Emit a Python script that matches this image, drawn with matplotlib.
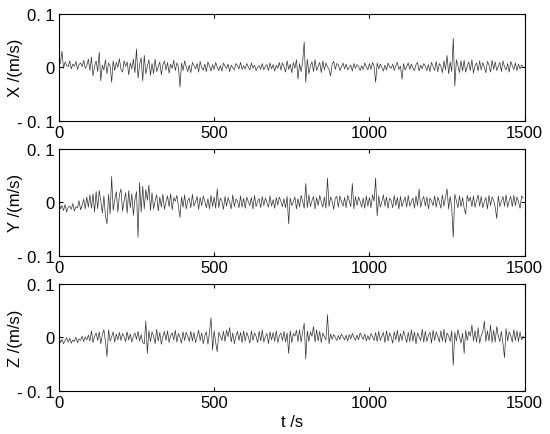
import numpy as np
import matplotlib
matplotlib.use('Agg')
import matplotlib.pyplot as plt

plt.rcParams['font.family'] = ['Liberation Sans', 'DejaVu Sans']

# Velocity signals, mm/s, one value every 5 s
t = np.arange(0, 1500, 5)

vx = [3, 8, 30, -2, 10, 4, 1, 12, -3, 6, 2, 11, -4, 5, 8, 1, 13, -2, 3, 15,
      -6, 19, -16, 2, 12, -8, 28, -25, 4, -5, 14, -12, 8, 3, -28, 12, -6, 9, 0, 16,
      -4, -9, 12, 2, 10, -14, 8, -3, 15, -10, 34, -20, 5, 18, -25, 22, -12, 2, 14, -15,
      7, -12, 15, -8, 1, 10, -14, 4, 12, -5, 9, -11, 6, -2, 13, -6, 8, 2, -37, 8,
      -6, 12, 1, -8, 4, -10, 9, 3, -3, 7, -9, 11, -1, -5, 6, -8, 10, 2, -7, 5,
      -4, 9, 0, -6, 3, -7, 8, 2, -2, 6, -8, 4, -1, -5, 7, 3, -3, 9, -4, 3,
      -3, 7, 1, -5, 8, -2, 4, -6, 0, 3, -4, 7, -5, 2, 5, -6, 8, -3, 5, -7,
      4, -2, 9, -5, 8, 1, -9, 12, -4, 6, -10, 9, -2, 14, -22, 7, -8, 10, 47, -28,
      15, -12, 3, 10, -8, 14, -6, 2, 9, -10, 12, -5, 8, 1, -4, -16, 6, 11, -4, 7,
      5, -6, 1, 8, -3, 6, -5, 0, 4, -7, 7, -2, 5, 2, -6, 3, -4, 8, 1, -5,
      7, -4, 9, 2, -28, 8, -3, 6, 0, -7, 4, -5, 8, 1, -2, 6, -6, 3, 9, -4,
      2, -22, 7, -5, 1, 8, -4, 6, -1, -6, 5, 9, -7, 4, -3, 7, 2, -6, 5, -8,
      9, 1, -6, 11, -8, 7, 2, -10, 12, -5, 22, -12, 10, -8, 54, -35, 14, 3, -10, 12,
      -7, 13, -9, 2, 10, -6, 14, -11, 3, 8, -7, 12, -5, 9, 0, -10, 11, 4, -9, 13,
      -4, 10, -6, 2, 9, -8, 12, 1, -5, 7, -9, 11, 3, -4, 8, -6, 6, -3, 4, 2]

vy = [5, -12, -6, -15, -4, -18, -9, -7, -13, -2, -16, -8, -10, 3, -14, -5, 6, -12, 10, -9,
      14, -11, 16, -18, 20, -12, 22, 3, -20, 12, -25, -40, 15, -22, 48, -15, 5, 20, -18, 14,
      25, -16, 2, 18, -20, 22, -10, 16, -24, 5, 20, -65, 37, -18, 30, -12, 24, 4, 32, -15,
      18, -12, 3, 14, -16, 10, -9, 15, -13, 1, 12, -8, 16, -14, 9, 2, 13, -7, -28, 10,
      -9, 14, -12, 3, 8, -10, 15, -7, 1, 11, -13, 9, -6, 12, 2, -10, 7, -12, 13, -8,
      10, -11, 25, -10, 8, 2, -13, 11, -7, 9, 0, -12, 14, -8, 6, 3, -10, 12, -9, 8,
      -11, 10, 1, -6, 9, -12, 13, -8, 2, 7, -10, 11, -6, 8, 0, -9, 12, -7, 5, -11,
      9, -5, 10, 2, -8, 7, -10, 11, -40, 8, -6, 1, 10, -12, 7, -9, 13, 2, -11, 35,
      -10, 14, -8, 3, 11, -12, 9, -6, 13, 1, -9, 10, -11, 45, -8, 10, 2, -13, 8, 11,
      -9, 12, 1, -7, 9, -10, 13, 3, -8, 35, -12, 11, -6, 10, 2, -9, 8, -11, 12, -7,
      9, -10, 14, 2, 45, -25, 12, -9, 1, 14, -7, 10, -11, 8, 3, -10, 13, -6, 9, -12,
      11, -8, 2, 10, -9, 13, -7, 1, 8, -11, 12, -6, 25, -9, 4, 11, -7, 10, -12, 8,
      2, -6, 12, -9, 10, 1, -11, 14, -7, 9, 25, -12, 11, -9, -65, 15, 3, -10, 12, -8,
      9, -11, -22, 13, 2, 10, -8, 12, -9, 3, 14, -7, 11, -10, 1, 9, -12, 13, -6, 10,
      4, -9, -30, 12, -8, 2, 11, -7, 14, -9, 3, 11, -8, 13, -6, 10, 1, -11, 12, 8]

vz = [2, -10, -4, -12, -6, -1, -9, -2, -11, -5, -8, 0, -10, -3, -6, 2, -8, 1, -5, 4,
      -7, 12, -10, 2, 8, -6, 10, -12, 5, 14, -8, -36, 14, -7, 1, 10, -9, 6, -5, 9,
      -6, 7, 1, -8, 10, -5, 6, -9, 2, 8, -4, 11, -7, 5, -10, -12, 30, -30, 12, -8,
      10, 2, -12, 15, -7, 9, -13, 1, 11, -6, 12, -10, 3, 8, -5, 13, -9, 7, 0, -11,
      10, -6, 9, 2, -8, 11, -7, 9, -10, 1, 13, -6, 8, -12, 3, 10, -13, 9, 36, -24,
      12, -10, -27, 9, 2, -6, 11, -8, 13, 1, 18, -9, 8, -12, 2, 11, -6, 9, -10, 12,
      -7, 9, 1, -11, 12, -6, 8, 2, -10, 11, -7, 13, -9, 1, 7, -12, 10, -5, 9, -8,
      12, -10, 3, 8, -6, 11, -9, 8, -30, 12, -10, 7, 2, 13, -8, 14, -9, 10, 26, -40,
      12, -8, 10, 2, 20, -9, 14, -7, 11, -10, 8, 1, -5, 42, -12, 6, -4, 5, 0, -6,
      3, -4, 6, 1, -5, 4, -7, 5, -3, 7, 0, -6, 4, -5, 8, 2, -4, 6, -7, 3,
      -5, 7, 1, -6, 9, -8, 11, -6, 2, 9, -10, 12, -7, 8, 1, -11, 10, -5, 13, -9,
      7, -6, 12, 2, -10, 9, -8, 14, -7, 10, -12, 8, 1, -6, 15, -9, 11, -8, 3, 9,
      -11, 13, -6, 10, 1, -9, 12, -7, 15, -10, 8, 2, -8, 12, -52, 9, -7, 14, 1, -11,
      8, -30, 13, -6, 11, 2, 23, -7, 12, -9, 18, -11, 3, 10, 30, -8, 12, -7, 23, -10,
      13, -9, 20, 2, -8, 11, -12, -38, 16, -7, 10, 3, -9, 14, -6, 12, -8, 10, -5, 2]

series = [vx, vy, vz]
ylabels = ['X /(m/s)', 'Y /(m/s)', 'Z /(m/s)']
xticks = [0, 500, 1000, 1500]
yticks = [-0.1, 0, 0.1]
ytick_labels = ['- 0. 1', '0', '0. 1']

fig = plt.figure(figsize=(5.5, 4.35), dpi=100)
bottoms = [0.7195, 0.409, 0.0989]

for i in range(3):
    ax = fig.add_axes([0.107, bottoms[i], 0.847, 0.247])
    ax.plot(t, np.array(series[i]) / 1000.0, color='0.2', linewidth=0.5)
    ax.set_xlim(0, 1500)
    ax.set_ylim(-0.1, 0.1)
    ax.set_xticks(xticks)
    ax.set_yticks(yticks)
    ax.set_yticklabels(ytick_labels)
    ax.tick_params(direction='in', top=True, right=True, labelsize=12,
                   length=3, width=0.8, pad=3)
    ax.set_ylabel(ylabels[i], fontsize=12)
    ax.yaxis.set_label_coords(-0.077, 0.5)
    for s in ax.spines.values():
        s.set_linewidth(0.8)

ax.set_xlabel('t /s', fontsize=12, labelpad=3)

plt.savefig('out.png', dpi=100)
